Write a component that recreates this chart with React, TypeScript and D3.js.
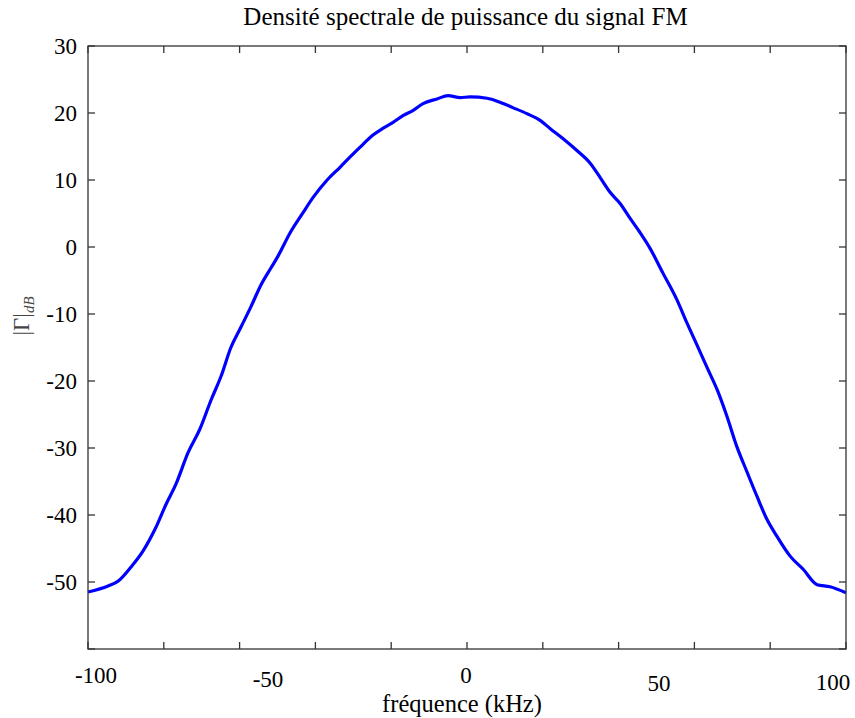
import React from "react";
import * as d3 from "d3";

const freqKHz = [
  -100, -94.7, -92.1, -88.7, -85.5, -82.3, -79.4, -76.8, -73.6, -70.5,
  -67.5, -64.9, -62.3, -59.6, -57.0, -54.4, -51.7, -49.9, -46.7, -43.3,
  -40.6, -36.9, -33.5, -30.9, -28.2, -24.8, -22.2, -19.5, -16.9, -14.2,
  -11.6, -7.9, -5.0, -1.8, 0.8, 5.3, 8.7, 12.1, 15.8, 19.3,
  21.9, 25.3, 29.0, 32.5, 35.1, 37.7, 40.4, 43.0, 45.6, 48.3,
  51.7, 55.4, 58.0, 60.9, 63.6, 66.0, 68.6, 71.2, 73.9, 76.5,
  79.1, 81.8, 85.2, 88.7, 92.4, 95.8, 100,
];
const psdDb = [
  -51.5, -50.6, -49.9, -47.8, -45.4, -42.1, -38.4, -35.4, -30.7, -27.2,
  -22.8, -19.3, -15.0, -11.9, -8.9, -5.7, -3.1, -1.4, 2.1, 5.1,
  7.4, 10.0, 11.9, 13.4, 14.9, 16.7, 17.7, 18.6, 19.6, 20.4,
  21.4, 22.1, 22.6, 22.3, 22.4, 22.2, 21.6, 20.8, 19.9, 18.9,
  17.7, 16.2, 14.4, 12.5, 10.4, 8.2, 6.5, 4.3, 2.2, -0.2,
  -3.9, -7.9, -11.3, -14.9, -18.3, -21.3, -25.3, -29.8, -33.6, -37.2,
  -40.6, -43.2, -46.1, -48.1, -50.4, -50.7, -51.6,
];
const xTicks = [-100, -80, -60, -40, -20, 0, 20, 40, 60, 80, 100];
const yTicks = [30, 20, 10, 0, -10, -20, -30, -40, -50, -60];
const yTickLabels = ["30", "20", "10", "0", "-10", "-20", "-30", "-40", "-50"];
const xTickLabelValues = [-100, -50, 0, 50, 100];
const xTickLabels = ["-100", "-50", "0", "50", "100"];
const title = "Densité spectrale de puissance du signal FM";
const xLabel = "fréquence (kHz)";

const W = 855;
const H = 718;
const left = 88;
const right = 846;
const top = 46;
const bottom = 649;
const font = "'Liberation Serif', 'Times New Roman', serif";

export default function App() {
  const x = d3.scaleLinear().domain([-100, 100]).range([left, right]);
  const y = d3.scaleLinear().domain([-60, 30]).range([bottom, top]);
  // label placement as in the reference (labels not aligned to ticks)
  const xl = d3.scaleLinear().domain([-100, -50, 0, 50, 100]).range([96, 268, 466, 659, 833]);
  const xlBase = d3.scaleLinear().domain([-100, -50, 0, 50, 100]).range([683, 687, 683, 691, 690]);

  const pts = freqKHz.map((f, i) => [f, psdDb[i]] as [number, number]);
  const path =
    d3
      .line<[number, number]>()
      .x((d) => x(d[0]))
      .y((d) => y(d[1]))
      .curve(d3.curveMonotoneX)(pts) || "";

  const tickLen = 7;
  const frame = "#333";

  return (
    <svg
      width={W}
      height={H}
      style={{ position: "absolute", left: 0, top: 0, display: "block", background: "#fff" }}
    >
      <rect x={0} y={0} width={W} height={H} fill="#fff" />
      <text x={465.5} y={25} textAnchor="middle" fontFamily={font} fontSize={25} fill="#000">
        {title}
      </text>

      {/* curve */}
      <path d={path} fill="none" stroke="#0000ff" strokeWidth={3.2} strokeLinejoin="round" />

      {/* frame */}
      <rect x={left} y={top} width={right - left} height={bottom - top} fill="none" stroke={frame} strokeWidth={1.3} />

      {/* x ticks */}
      {xTicks.map((t) => (
        <g key={"xt" + t}>
          <line x1={x(t)} x2={x(t)} y1={bottom} y2={bottom - tickLen} stroke={frame} strokeWidth={1.3} />
          <line x1={x(t)} x2={x(t)} y1={top} y2={top + tickLen} stroke={frame} strokeWidth={1.3} />
        </g>
      ))}
      {/* y ticks */}
      {yTicks.map((t) => (
        <g key={"yt" + t}>
          <line x1={left} x2={left + tickLen} y1={y(t)} y2={y(t)} stroke={frame} strokeWidth={1.3} />
          <line x1={right} x2={right - tickLen} y1={y(t)} y2={y(t)} stroke={frame} strokeWidth={1.3} />
        </g>
      ))}

      {/* y tick labels */}
      {yTickLabels.map((l, i) => (
        <text
          key={"yl" + l}
          x={77}
          y={y(yTicks[i]) + 7.5}
          textAnchor="end"
          fontFamily={font}
          fontSize={23}
          fill="#000"
        >
          {l}
        </text>
      ))}

      {/* x tick labels */}
      {xTickLabels.map((l, i) => (
        <text
          key={"xl" + l}
          x={xl(xTickLabelValues[i])}
          y={xlBase(xTickLabelValues[i])}
          textAnchor="middle"
          fontFamily={font}
          fontSize={23}
          fill="#000"
        >
          {l}
        </text>
      ))}

      {/* x label */}
      <text x={462} y={712} textAnchor="middle" fontFamily={font} fontSize={24.5} fill="#000">
        {xLabel}
      </text>

      {/* y label */}
      <text
        transform="translate(29,316) rotate(-90)"
        textAnchor="middle"
        fontFamily={font}
        fontSize={23}
        fill="#444"
      >
        |Γ|
        <tspan fontStyle="italic" fontSize={15} dy={5}>
          dB
        </tspan>
      </text>
    </svg>
  );
}
